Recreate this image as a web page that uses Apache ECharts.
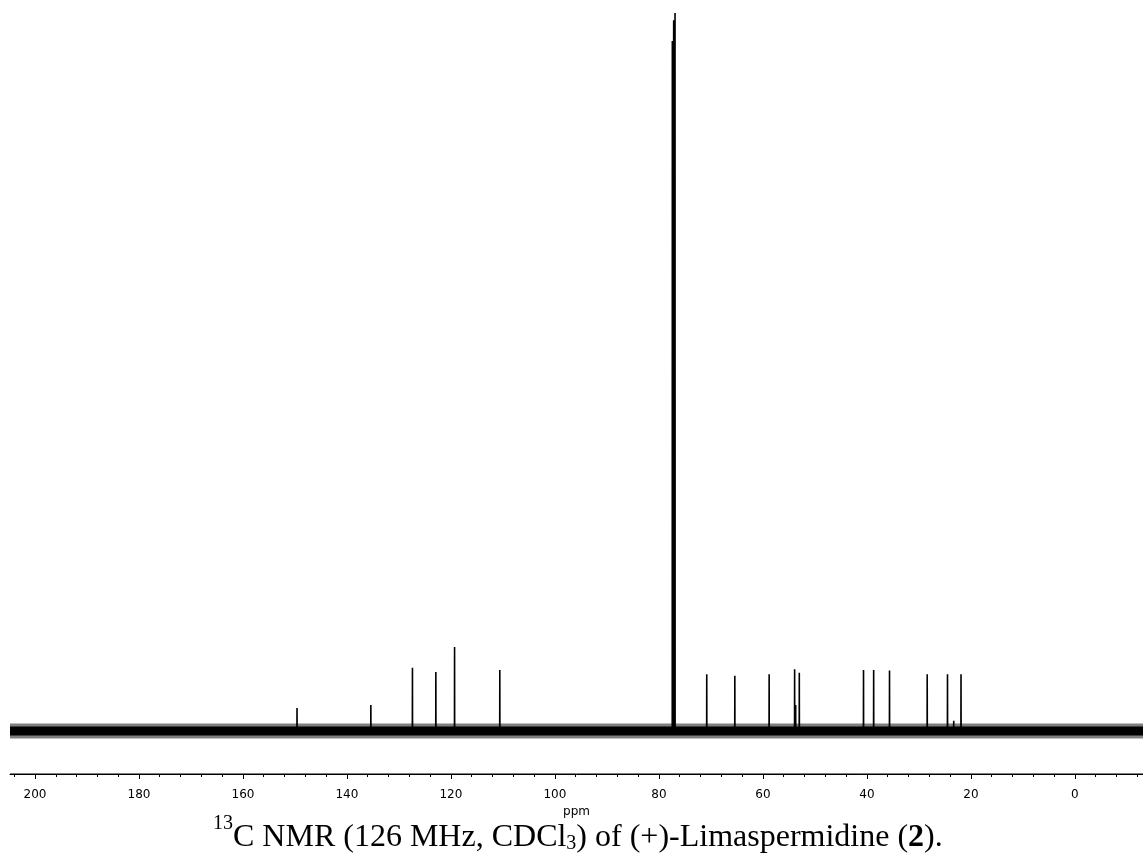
<!DOCTYPE html>
<html>
<head>
<meta charset="utf-8">
<script src="https://cdn.jsdelivr.net/npm/echarts@6/dist/echarts.min.js"></script>
<style>html,body{margin:0;padding:0;background:#fff}#c{width:1143px;height:859px}</style>
</head>
<body>
<div id="c"></div>
<script>
// Peak positions (ppm) and heights (relative intensity, tallest solvent line = 100)
const peakPpm    = [149.6, 135.4, 127.4, 122.9, 119.3, 110.6, 77.42, 77.16, 76.90, 70.8, 65.4, 58.8, 53.9, 53.7, 53.0, 40.65, 38.7, 35.65, 28.4, 24.5, 23.3, 21.9];
const peakHeight = [3.2,   3.6,   8.8,   8.2,   11.7,  8.5,   96.1,  99.0,  100,   7.9,  7.7,  7.9,  8.6,  3.6,  8.1,  8.5,   8.5,  8.4,   7.9,  7.9,  1.4,  7.9];
// Axis range and ticks (ppm)
const ppmMin = -13.1, ppmMax = 204.8;
const yMin = -6, yMax = 100;
const majorTicks = [200, 180, 160, 140, 120, 100, 80, 60, 40, 20, 0];
const minorTicks = [204, 200, 196, 192, 188, 184, 180, 176, 172, 168, 164, 160, 156, 152, 148, 144, 140, 136, 132, 128, 124, 120, 116, 112, 108, 104, 100, 96, 92, 88, 84, 80, 76, 72, 68, 64, 60, 56, 52, 48, 44, 40, 36, 32, 28, 24, 20, 16, 12, 8, 4, 0, -4, -8, -12];
const baselineLevel = 0;

const peakData = [];
peakPpm.forEach((p, i) => {
  peakData.push([p + 0.02, baselineLevel]);
  peakData.push([p, peakHeight[i]]);
  peakData.push([p - 0.02, baselineLevel]);
});

const chart = echarts.init(document.getElementById('c'), null, {renderer: 'canvas'});
chart.setOption({
  animation: false,
  backgroundColor: '#fff',
  title: {
    left: 208, top: 809,
    text: '{sup|13}{n|C NMR (126 MHz, CDCl}{sub|3}{n|) of (+)-Limaspermidine (}{b|2}{n|).}',
    textStyle: {
      fontWeight: 'normal',
      rich: {
        n: {fontFamily: 'Liberation Serif', fontSize: 32, fontWeight: 'normal', color: '#000', lineHeight: 40, verticalAlign: 'bottom'},
        b: {fontFamily: 'Liberation Serif', fontSize: 32, fontWeight: 'bold', color: '#000', lineHeight: 40, verticalAlign: 'bottom'},
        sup: {fontFamily: 'Liberation Serif', fontSize: 20, fontWeight: 'normal', color: '#000', verticalAlign: 'top', lineHeight: 28},
        sub: {fontFamily: 'Liberation Serif', fontSize: 20, fontWeight: 'normal', color: '#000', verticalAlign: 'bottom', lineHeight: 18}
      }
    }
  },
  grid: {left: 10, right: 0, top: 13, bottom: 85},
  xAxis: [{
    type: 'value', min: ppmMin, max: ppmMax, inverse: true, position: 'bottom',
    name: 'ppm', nameLocation: 'middle', nameGap: 25,
    nameTextStyle: {fontFamily: 'DejaVu Sans', fontSize: 12, color: '#000'},
    axisLine: {show: true, onZero: false, lineStyle: {color: '#000', width: 1}},
    axisTick: {show: true, length: 5, inside: false, customValues: majorTicks, lineStyle: {color: '#000'}},
    axisLabel: {show: true, margin: 15, fontFamily: 'DejaVu Sans', fontSize: 12, color: '#000', customValues: majorTicks},
    splitLine: {show: false}
  }, {
    type: 'value', min: ppmMin, max: ppmMax, inverse: true, position: 'bottom',
    axisLine: {show: false, onZero: false},
    axisTick: {show: true, length: 3, inside: false, customValues: minorTicks, lineStyle: {color: '#000'}},
    axisLabel: {show: false},
    splitLine: {show: false}
  }],
  yAxis: {type: 'value', min: yMin, max: yMax, show: false, splitLine: {show: false}},
  series: [{
    // axis baseline drawn at the bottom of the value range
    type: 'line', silent: true, symbol: 'none', xAxisIndex: 0, clip: false,
    data: [[ppmMax, yMin], [ppmMin, yMin]],
    lineStyle: {color: '#000', width: 1}
  }, {
    // noise fringe
    type: 'line', silent: true, symbol: 'none', xAxisIndex: 0,
    data: [[ppmMax, baselineLevel], [ppmMin, baselineLevel]],
    lineStyle: {color: '#000', width: 15, opacity: 0.5}
  }, {
    // noise core
    type: 'line', silent: true, symbol: 'none', xAxisIndex: 0,
    data: [[ppmMax, baselineLevel], [ppmMin, baselineLevel]],
    lineStyle: {color: '#000', width: 9}
  }, {
    type: 'line', silent: true, symbol: 'none', xAxisIndex: 0,
    data: peakData,
    lineStyle: {color: '#000', width: 1.6}
  }]
});
</script>
</body>
</html>
